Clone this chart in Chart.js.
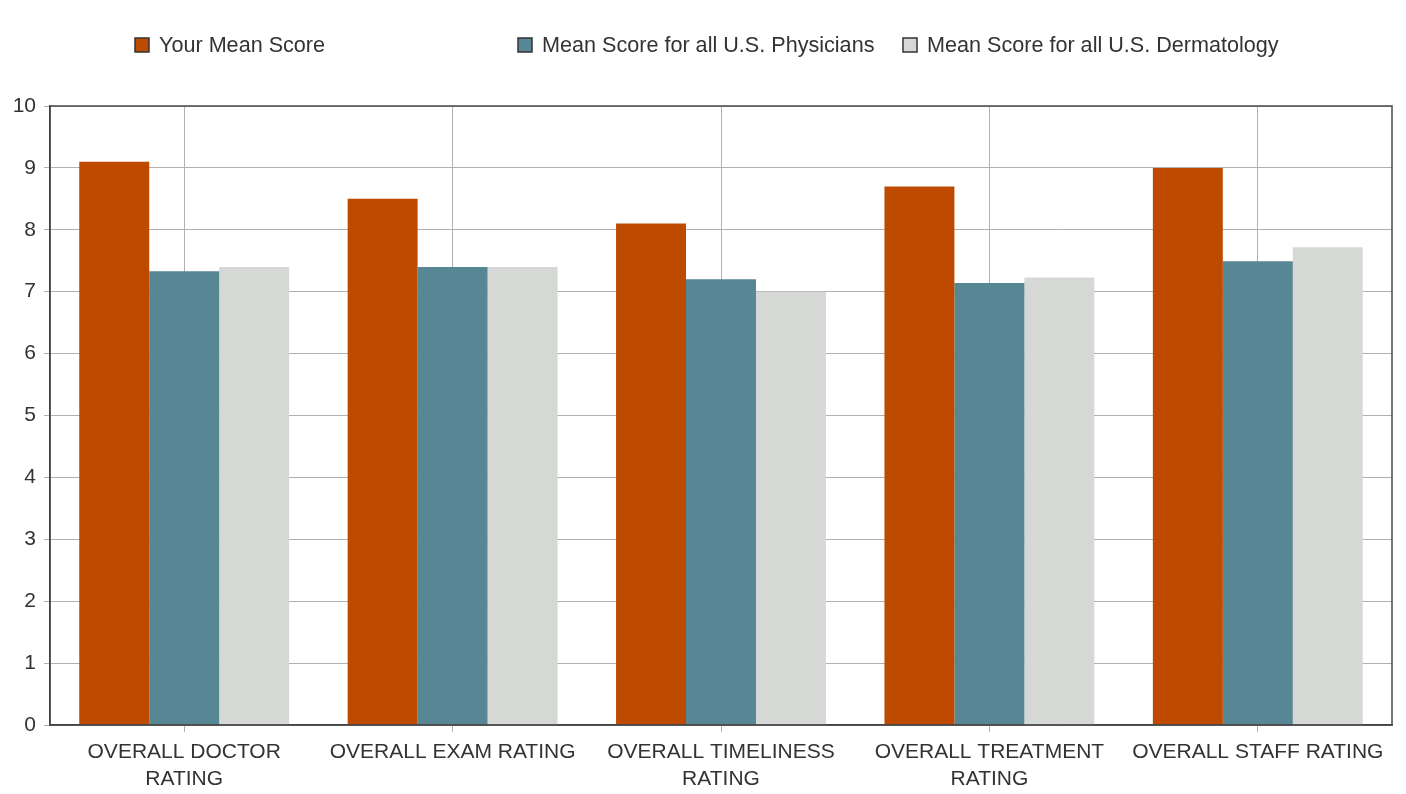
<!DOCTYPE html>
<html>
<head>
<meta charset="utf-8">
<script src="https://cdn.jsdelivr.net/npm/chart.js@4/dist/chart.umd.min.js"></script>
<style>
  html, body { margin: 0; padding: 0; background: #ffffff; }
  #wrap { width: 1406px; height: 794px; position: relative; }
</style>
</head>
<body>
<div id="wrap"><canvas id="c" width="1406" height="794"></canvas></div>
<script>
// Survey rating categories (x axis)
const categories = [
  ['OVERALL DOCTOR', 'RATING'],
  'OVERALL EXAM RATING',
  ['OVERALL TIMELINESS', 'RATING'],
  ['OVERALL TREATMENT', 'RATING'],
  'OVERALL STAFF RATING'
];

// Series labels
const seriesNames = [
  'Your Mean Score',
  'Mean Score for all U.S. Physicians',
  'Mean Score for all U.S. Dermatology'
];

// Mean scores per category
const yourMean = [9.1, 8.5, 8.1, 8.7, 9.0];
const physiciansMean = [7.33, 7.4, 7.2, 7.14, 7.49];
const dermatologyMean = [7.4, 7.4, 7.0, 7.23, 7.72];

// Y axis range
const yMin = 0, yMax = 10, yStep = 1;

const colors = ['#BE4A00', '#578694', '#D6D8D5'];
const FONT = '"Liberation Sans", Arial, sans-serif';

// Legend laid out in fixed columns above the plot
const columnLegend = {
  id: 'columnLegend',
  afterDraw(chart) {
    const ctx = chart.ctx;
    const xs = [135, 518, 903];
    const y = 45;
    ctx.save();
    chart.data.datasets.forEach((ds, i) => {
      const x = xs[i];
      ctx.fillStyle = ds.backgroundColor;
      ctx.fillRect(x, y - 7, 14, 14);
      ctx.strokeStyle = '#333';
      ctx.lineWidth = 1.5;
      ctx.strokeRect(x, y - 7, 14, 14);
      ctx.fillStyle = '#333';
      ctx.font = '21.6px ' + FONT;
      ctx.textBaseline = 'middle';
      ctx.textAlign = 'left';
      ctx.fillText(ds.label, x + 24, y + 1);
    });
    ctx.restore();
  }
};

// Frame around the plotting area
const plotFrame = {
  id: 'plotFrame',
  afterDatasetsDraw(chart) {
    const a = chart.chartArea;
    const ctx = chart.ctx;
    ctx.save();
    ctx.strokeStyle = '#4a4a4a';
    ctx.lineWidth = 1.5;
    ctx.strokeRect(a.left, a.top, a.right - a.left, a.bottom - a.top);
    ctx.restore();
  }
};

new Chart(document.getElementById('c'), {
  type: 'bar',
  data: {
    labels: categories,
    datasets: [
      { label: seriesNames[0], data: yourMean, backgroundColor: colors[0] },
      { label: seriesNames[1], data: physiciansMean, backgroundColor: colors[1] },
      { label: seriesNames[2], data: dermatologyMean, backgroundColor: colors[2] }
    ]
  },
  options: {
    responsive: false,
    animation: false,
    devicePixelRatio: 1,
    layout: { padding: { top: 106, right: 14, left: 0, bottom: 0 } },
    datasets: {
      bar: { categoryPercentage: 0.782, barPercentage: 1.0, borderWidth: 0 }
    },
    plugins: {
      legend: { display: false },
      tooltip: { enabled: false }
    },
    scales: {
      x: {
        grid: {
          offset: false,
          color: '#b0b0b0',
          lineWidth: 1,
          tickLength: 7,
          drawOnChartArea: true
        },
        border: { color: '#333', width: 1.5 },
        ticks: {
          color: '#333',
          font: { family: FONT, size: 21, lineHeight: 1.29 },
          padding: 7,
          maxRotation: 0,
          autoSkip: false
        },
        afterFit(scale) { scale.height = 69; }
      },
      y: {
        min: yMin,
        max: yMax,
        grid: { color: '#b0b0b0', lineWidth: 1, tickLength: 6 },
        border: { color: '#333', width: 1.5 },
        ticks: {
          stepSize: yStep,
          color: '#333',
          font: { family: FONT, size: 21 },
          padding: 8
        },
        afterFit(scale) { scale.width = 50; }
      }
    }
  },
  plugins: [columnLegend, plotFrame]
});
</script>
</body>
</html>
